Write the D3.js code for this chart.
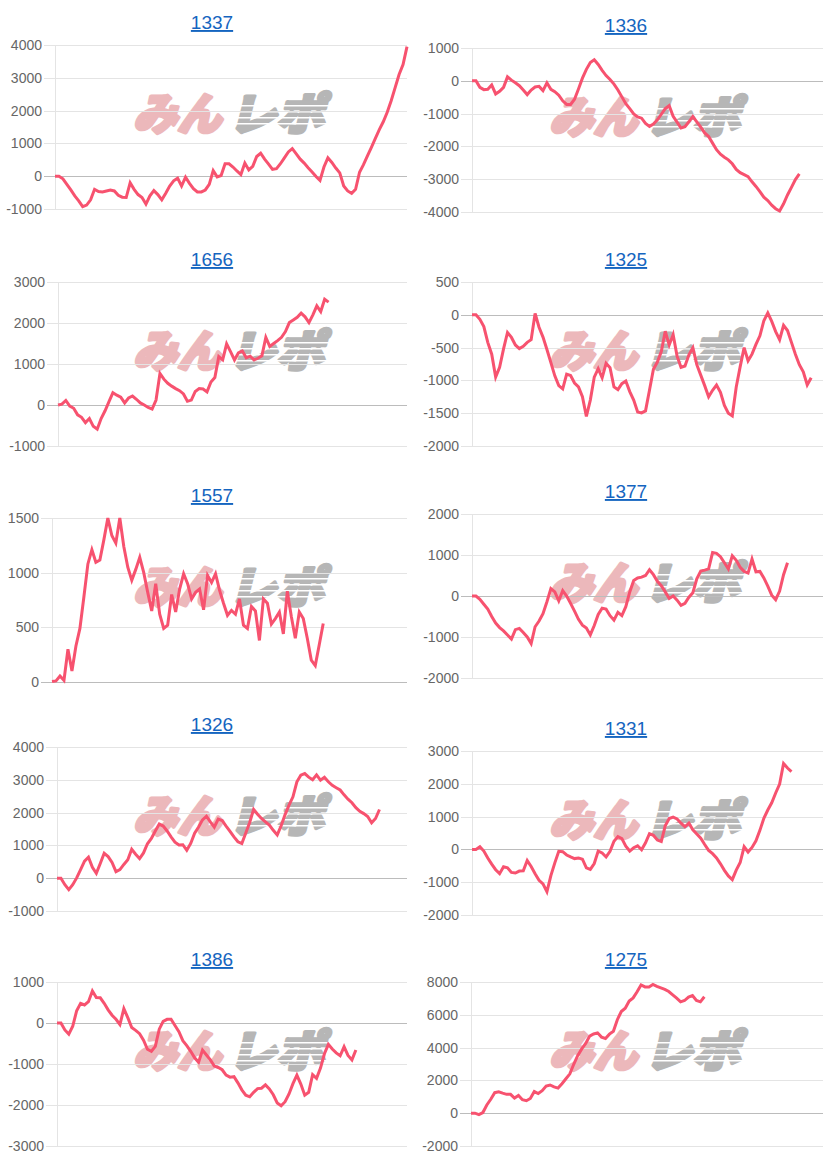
<!DOCTYPE html>
<html><head><meta charset="utf-8">
<script src="https://cdn.jsdelivr.net/npm/d3@7"></script>
<style>html,body{margin:0;padding:0;background:#fff;} svg{display:block;}</style>
</head><body>
<svg id="c" width="823" height="1165"></svg>
<script>
// ---------- data ----------
const titles = ["1337","1336","1656","1325","1557","1377","1326","1331","1386","1275"];
const N_LABELS = 90; // number of x categories shared by every chart

const s1337 = [0,0,-80,-250,-420,-600,-750,-930,-880,-720,
  -400,-470,-480,-450,-420,-450,-580,-640,-650,-200,
  -400,-560,-650,-850,-600,-440,-560,-720,-520,-300,
  -140,-60,-300,-30,-220,-380,-480,-480,-420,-250,
  170,-20,20,380,380,280,160,50,400,190,
  300,600,700,520,370,210,230,380,560,740,
  840,680,520,400,260,130,-10,-130,280,560,
  420,250,100,-300,-450,-520,-400,120,350,620,
  880,1150,1420,1660,1950,2300,2700,3100,3400,3950];
const s1336 = [0,0,-200,-270,-260,-130,-400,-320,-200,120,
  20,-60,-150,-280,-420,-280,-190,-170,-300,-60,
  -260,-330,-440,-610,-720,-720,-560,-250,80,350,
  560,640,500,320,160,40,-100,-280,-490,-700,
  -850,-1010,-1100,-1140,-1300,-1390,-1320,-1190,-1020,-850,
  -760,-1080,-1260,-1440,-1400,-1250,-1090,-1250,-1410,-1590,
  -1700,-1900,-2100,-2240,-2330,-2410,-2530,-2700,-2800,-2860,
  -2920,-3080,-3220,-3380,-3550,-3650,-3790,-3900,-3970,-3750,
  -3480,-3250,-3010,-2840];
const s1656 = [0,20,110,-25,-80,-240,-300,-430,-330,-520,
  -590,-330,-140,80,300,240,190,50,170,220,
  140,50,0,-60,-100,120,770,630,530,460,
  400,350,270,90,120,330,400,390,320,560,
  670,1180,1100,1490,1300,1100,1270,1320,1150,1190,
  1100,1140,1200,1650,1430,1500,1570,1650,1790,2010,
  2075,2140,2240,2150,2010,2200,2420,2280,2580,2510];
const s1325 = [0,0,-70,-180,-420,-600,-950,-800,-520,-270,
  -345,-460,-515,-480,-420,-380,20,-190,-340,-530,
  -730,-930,-1080,-1130,-905,-925,-1040,-1100,-1250,-1550,
  -1300,-950,-820,-960,-740,-805,-1100,-1140,-1050,-1010,
  -1170,-1300,-1480,-1495,-1465,-1150,-830,-720,-560,-250,
  -460,-300,-630,-800,-780,-610,-500,-760,-920,-1080,
  -1250,-1150,-1070,-1180,-1380,-1500,-1540,-1100,-790,-500,
  -700,-600,-450,-320,-90,30,-100,-255,-380,-160,
  -240,-420,-600,-760,-870,-1070,-960];
const s1557 = [5,10,55,15,300,100,330,490,780,1080,
  1210,1095,1115,1300,1500,1340,1270,1500,1240,1050,
  930,1030,1140,1000,820,650,900,620,490,520,
  800,640,850,990,900,760,820,850,660,975,
  910,990,840,720,610,655,620,760,520,490,
  690,650,380,760,720,530,580,640,440,830,
  600,400,640,580,400,200,150,340,535];
const s1377 = [0,0,-80,-200,-320,-500,-660,-770,-850,-950,
  -1050,-820,-790,-890,-1000,-1160,-750,-610,-430,-140,
  180,100,-120,130,0,-180,-370,-570,-710,-780,
  -950,-720,-450,-300,-320,-480,-590,-400,-480,-260,
  100,380,440,460,500,640,520,360,250,100,
  -60,0,-100,-230,-180,-30,80,420,610,630,
  660,1060,1040,960,810,660,980,870,700,600,
  560,900,590,600,440,240,20,-90,120,520,
  810];
const s1326 = [0,0,-200,-350,-200,10,260,520,640,330,
  150,450,760,660,480,200,260,420,560,880,
  730,600,770,1050,1210,1440,1650,1590,1440,1260,
  1100,1010,1020,850,1060,1370,1560,1780,1890,1720,
  1560,1800,1760,1590,1430,1260,1110,1060,1380,1700,
  2100,1950,1820,1720,1620,1460,1320,1600,1940,2230,
  2480,2940,3140,3190,3080,3000,3150,2990,3080,2940,
  2830,2760,2690,2540,2410,2300,2150,2040,1970,1880,
  1690,1820,2095];
const s1331 = [0,0,80,-50,-260,-450,-620,-740,-530,-560,
  -700,-720,-660,-650,-340,-520,-740,-940,-1050,-1290,
  -800,-410,-60,-70,-170,-230,-280,-260,-300,-560,
  -610,-430,-50,-110,-230,-60,250,390,330,100,
  -50,50,110,-10,200,480,430,290,240,720,
  940,985,930,800,690,800,600,470,340,150,
  -30,-130,-260,-440,-640,-810,-920,-630,-400,80,
  -80,60,260,580,950,1200,1420,1720,1990,2620,
  2480,2370];
const s1386 = [0,0,-170,-270,-80,300,480,440,520,780,
  620,615,480,320,190,90,-40,350,130,-110,
  -180,-260,-420,-640,-690,-570,-150,40,90,90,
  -60,-210,-430,-550,-690,-850,-960,-660,-780,-900,
  -1050,-1085,-1140,-1270,-1320,-1310,-1460,-1630,-1760,-1800,
  -1690,-1600,-1590,-1510,-1610,-1750,-1950,-2020,-1920,-1730,
  -1480,-1270,-1490,-1760,-1690,-1260,-1350,-1100,-750,-520,
  -635,-730,-800,-580,-790,-900,-660];
const s1275 = [0,0,-90,40,500,850,1250,1300,1220,1150,
  1150,920,1080,820,760,900,1320,1200,1370,1650,
  1720,1600,1530,1800,2100,2400,3000,3520,3920,4250,
  4700,4830,4900,4640,4560,4820,5000,5700,6200,6400,
  6840,7030,7400,7820,7700,7700,7850,7730,7640,7550,
  7420,7220,7020,6790,6870,7080,7170,6870,6790,7100];

const ticks1337 = [-1000,0,1000,2000,3000,4000];
const ticks1336 = [-4000,-3000,-2000,-1000,0,1000];
const ticks1656 = [-1000,0,1000,2000,3000];
const ticks1325 = [-2000,-1500,-1000,-500,0,500];
const ticks1557 = [0,500,1000,1500];
const ticks1377 = [-2000,-1000,0,1000,2000];
const ticks1326 = [-1000,0,1000,2000,3000,4000];
const ticks1331 = [-2000,-1000,0,1000,2000,3000];
const ticks1386 = [-3000,-2000,-1000,0,1000];
const ticks1275 = [-2000,0,2000,4000,6000,8000];

const seriesList = [s1337,s1336,s1656,s1325,s1557,s1377,s1326,s1331,s1386,s1275];
const tickList = [ticks1337,ticks1336,ticks1656,ticks1325,ticks1557,ticks1377,ticks1326,ticks1331,ticks1386,ticks1275];

// ---------- layout ----------
const plotLefts = [55,472,58,472,52,472,57,472,57,471];
const plotTops  = [45,48,282,282,518,514,747,751,982,982];
const plotRights = [407,823];
const titleCx = [212,626];
const markCx = [231,647];
const plotH = 164;
const FONT = "'Liberation Sans', Arial, Helvetica, sans-serif";
const LINE_COLOR = "#f7526f";

const svg = d3.select("#c");

seriesList.forEach((vals, k) => {
  const col = k % 2;
  const left = plotLefts[k], right = plotRights[col];
  const top = plotTops[k], bottom = top + plotH;
  const ticks = tickList[k];
  const x = d3.scaleLinear().domain([0, N_LABELS - 1]).range([left, right]);
  const y = d3.scaleLinear().domain(d3.extent(ticks)).range([bottom, top]);
  const g = svg.append("g");

  // watermark
  const cx = markCx[col], cy = top + 70;
  const wm = g.append("g").attr("transform", `translate(${cx},${cy}) skewX(-14)`);
  const wmStyle = (sel, c) => sel
    .style("font-family", "'Noto Sans CJK JP', sans-serif").style("font-weight", 900)
    .style("font-size", "44px").style("fill", c).style("stroke", c)
    .style("stroke-width", 3.5).style("stroke-linejoin", "round");
  wmStyle(wm.append("text").text("みん")
    .attr("x", -6).attr("y", 15).attr("text-anchor", "end")
    .attr("textLength", 88).attr("lengthAdjust", "spacingAndGlyphs"), "#ecb8bb");
  wmStyle(wm.append("text").text("レポ")
    .attr("x", 1).attr("y", 15).attr("text-anchor", "start")
    .attr("textLength", 96).attr("lengthAdjust", "spacingAndGlyphs"), "#b6b6b6");
  [-10, -4, 2, 8].forEach(dy => {
    wm.append("rect").attr("x", 4).attr("y", dy).attr("width", 100).attr("height", 1.4).style("fill", "#fff");
  });

  // grid + tick marks
  g.selectAll("line.grid").data(ticks).join("line")
    .attr("x1", left - 11).attr("x2", right)
    .attr("y1", d => Math.round(y(d)) + 0.5).attr("y2", d => Math.round(y(d)) + 0.5)
    .style("stroke", d => d === 0 ? "#bcbcbc" : "#e4e4e4").style("stroke-width", 1);
  g.append("line").attr("x1", left + 0.5).attr("x2", left + 0.5)
    .attr("y1", top).attr("y2", bottom + 1).style("stroke", "#e4e4e4");

  // tick labels
  g.selectAll("text.tk").data(ticks).join("text")
    .attr("x", left - 13).attr("y", d => y(d)).attr("dy", "0.35em")
    .attr("text-anchor", "end")
    .style("font-family", FONT).style("font-size", "14px").style("fill", "#666")
    .text(d => d);

  // series line
  const line = d3.line().x((d, i) => x(i)).y(d => y(d));
  g.append("path").datum(vals).attr("d", line)
    .style("fill", "none").style("stroke", LINE_COLOR).style("stroke-width", 3)
    .style("stroke-linejoin", "miter");

  // title
  g.append("text").attr("x", titleCx[col]).attr("y", top - 16)
    .attr("text-anchor", "middle")
    .style("font-family", FONT).style("font-size", "19px").style("fill", "#1565c0")
    .style("text-decoration", "underline")
    .text(titles[k]);
});
</script>
</body></html>
